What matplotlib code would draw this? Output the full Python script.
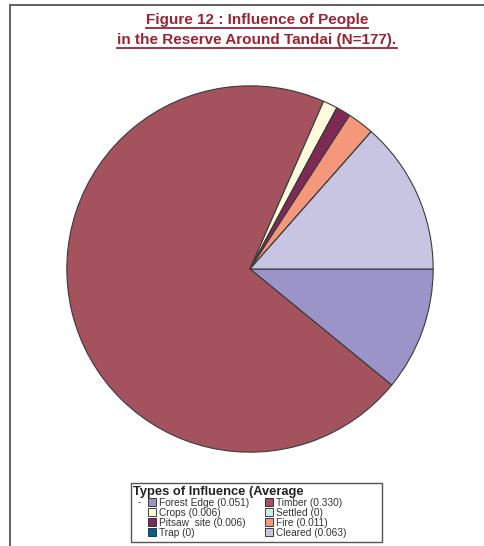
import matplotlib
matplotlib.use("Agg")
import matplotlib.pyplot as plt
from matplotlib.patches import Rectangle, Patch
from matplotlib.lines import Line2D

plt.rcParams["font.family"] = ["Liberation Sans", "DejaVu Sans"]

# data (pie order, clockwise from 3 o'clock)
labels = ["Forest Edge", "Timber", "Crops", "Settled", "Pitsaw  site", "Fire", "Trap", "Cleared"]
values = [0.051, 0.330, 0.006, 0, 0.006, 0.011, 0, 0.063]
value_text = ["0.051", "0.330", "0.006", "0", "0.006", "0.011", "0", "0.063"]
colors = ["#9A94C8", "#A5525F", "#FFFBDD", "#CDEBF5", "#7E2A55", "#F4977A", "#00608F", "#C8C5E2"]

title_lines = ["Figure 12 : Influence of People", "in the Reserve Around Tandai (N=177)."]
title_color = "#9B2335"
legend_title = "Types of Influence (Average"

W, H = 485, 546
fig = plt.figure(figsize=(W / 100, H / 100), dpi=100)

def px(x, y):
    # pixel (from top-left) -> figure fraction
    return x / W, 1 - y / H

# outer frame
fig.patches.append(Rectangle(px(10, 560), 500 / W, 555 / H, transform=fig.transFigure,
                             fill=False, edgecolor="#555555", linewidth=1.3))

# pie
cx, cy, r = 250, 269, 185
ax = fig.add_axes([(cx - r) / W, (H - cy - r) / H, 2 * r / W, 2 * r / H])
wedges, _ = ax.pie(values, colors=colors, startangle=0, counterclock=False, radius=1,
                   wedgeprops=dict(edgecolor="#3a3a3a", linewidth=0.8))
ax.set_xlim(-1.01, 1.01)
ax.set_ylim(-1.01, 1.01)
ax.axis("off")

# title with underline
texts = []
for i, line in enumerate(title_lines):
    t = fig.text(*px(257, 20 + 20 * i), line, ha="center", va="center", fontsize=11,
                 fontweight="bold", color=title_color)
    texts.append(t)
fig.canvas.draw()
renderer = fig.canvas.get_renderer()
for t in texts:
    bb = t.get_window_extent(renderer)
    y = bb.y0 - 0.5
    fig.add_artist(Line2D([bb.x0 / W, bb.x1 / W], [y / H, y / H], transform=fig.transFigure,
                          color=title_color, linewidth=1.3))

# legend box drawn by hand (wider than its contents, like the original)
fig.patches.append(Rectangle(px(131, 542), 251 / W, 59 / H, transform=fig.transFigure,
                             facecolor="white", edgecolor="#555555", linewidth=1.0, zorder=5))
fig.text(*px(133, 492), legend_title, fontsize=9.3, fontweight="bold", ha="left", va="center",
         color="#222222", zorder=6)
fig.text(*px(139, 502), "-", fontsize=7, ha="center", va="center", color="#333333", zorder=6)

# entries (column-wise fill -> reorder so rows read like the pie)
order = [0, 2, 4, 6, 1, 3, 5, 7]
handles = [Patch(facecolor=colors[i], edgecolor="#222222", linewidth=0.6) for i in order]
names = [f"{labels[i]} ({value_text[i]})" for i in order]
leg = fig.legend(handles, names, ncol=2, loc="upper left", bbox_to_anchor=px(148, 497.5),
                 fontsize=7.3, frameon=False, handlelength=0.75, handleheight=0.75,
                 handletextpad=0.3, labelspacing=0.0, columnspacing=1.6, borderpad=0,
                 borderaxespad=0)
leg.set_zorder(7)
for txt in leg.get_texts():
    txt.set_color("#333333")

fig.savefig("out.png", dpi=100)
